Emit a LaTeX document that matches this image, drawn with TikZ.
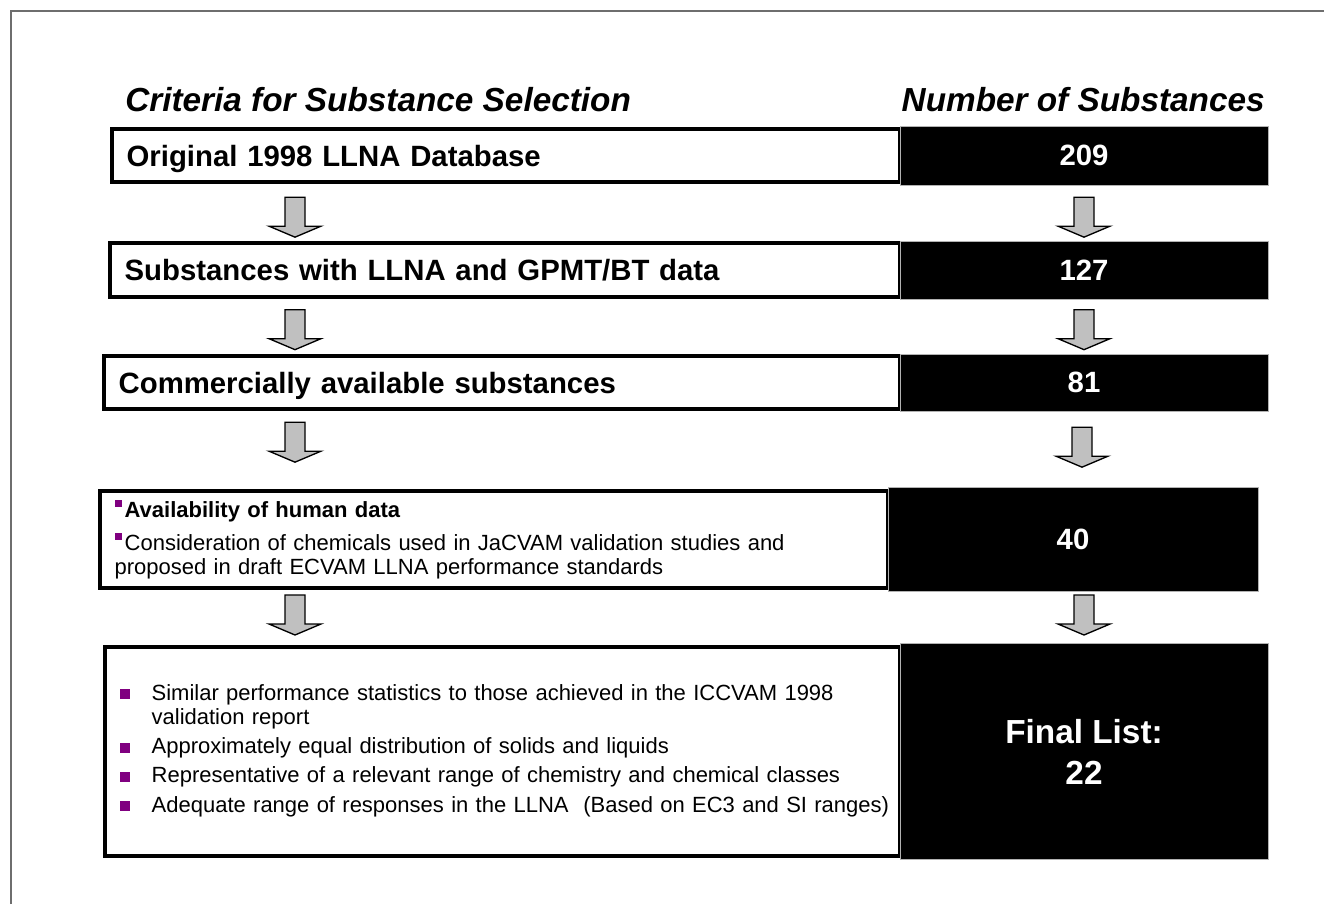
\documentclass[tikz,border=0pt]{standalone}
\usepackage{fontspec}
\setmainfont{Liberation Sans}
\usetikzlibrary{calc,positioning}

\definecolor{bulletpurple}{RGB}{128,0,128}
\definecolor{arrowgray}{RGB}{192,192,192}
\definecolor{framegray}{RGB}{110,110,110}

\newcommand{\sqbullet}{\textcolor{bulletpurple}{\rule[0.75pt]{7.5pt}{7.5pt}}}
\newcommand{\smbullet}{\textcolor{bulletpurple}{\rule[8pt]{5.5pt}{5.5pt}}}

\begin{document}
\begin{tikzpicture}[x=0.75pt,y=-0.75pt]

    \tikzstyle{crit} = [draw, line width=3pt, fill=white, anchor=west, outer sep=0pt,
        align=left, inner xsep=11pt, inner ysep=0pt, minimum height=40pt,
        font=\fontsize{22}{26}\selectfont\bfseries]

    \tikzstyle{count} = [draw=gray!60, line width=0.75pt, fill=black, text=white,
        outer sep=0pt, align=center, inner sep=0pt, minimum width=276pt,
        font=\fontsize{22}{26}\selectfont\bfseries]

    \tikzstyle{oneline} = [text depth=0pt]

    \tikzstyle{head} = [inner sep=0pt, font=\fontsize{25}{29}\selectfont\bfseries\itshape]

    \tikzstyle{small} = [font=\fontsize{16.5}{18}\selectfont]

    \tikzset{dnarrow/.pic={
        \draw[fill=arrowgray, line width=1pt] (-10,0) -- (-10,29) -- (-26,29)
            -- (0,40) -- (26,29) -- (10,29) -- (10,0) -- cycle;}}

    \useasboundingbox (0,0) rectangle (1324,904);

    % Frame
    \draw[framegray, line width=1.2pt] (11,904) -- (11,11) -- (1324,11);

    % Headings
    \node [head, anchor=base west] (crithead) at (125,111) {Criteria for Substance Selection};
    \node [head, anchor=base east] (numhead) at (1265,111) {Number of Substances};

    % Row 1
    \node [crit, oneline, text width=569pt] (orig) at (112,155.5) {Original 1998 LLNA Database};
    \node [count, oneline, right=0pt of orig, minimum height=44.25pt] (n209) {209};

    % Row 2
    \node [crit, oneline, text width=570.5pt] (gpmt) at (110,270) {Substances with LLNA and GPMT/BT data};
    \node [count, oneline, right=0pt of gpmt, minimum height=43.5pt] (n127) {127};

    % Row 3
    \node [crit, oneline, text width=575pt] (comm) at (104,382.5) {Commercially available substances};
    \node [count, oneline, right=0pt of comm, minimum height=42.75pt] (n81) {81};

    % Row 4
    \node [crit, small, text width=569pt, minimum height=72.75pt] (human) at (100,539.5)
        {\smbullet\hspace{2pt}\textbf{Availability of human data}\\[6.75pt]
         \smbullet\hspace{2pt}Consideration of chemicals used in JaCVAM validation studies and\\
         proposed in draft ECVAM LLNA performance standards};
    \node [count, oneline, right=0pt of human, minimum width=277.5pt, minimum height=78pt] (n40) {40};

    % Row 5
    \node [crit, small, text width=574.25pt, minimum height=156.75pt] (final) at (105,751.5)
        {\begin{tabular}{@{}p{24pt}@{}l@{}}
         \sqbullet & Similar performance statistics to those achieved in the ICCVAM 1998\\
                   & validation report\\[4pt]
         \sqbullet & Approximately equal distribution of solids and liquids\\[4pt]
         \sqbullet & Representative of a relevant range of chemistry and chemical classes\\[4pt]
         \sqbullet & Adequate range of responses in the LLNA\ \ (Based on EC3 and SI ranges)
         \end{tabular}};
    \node [count, right=0pt of final, minimum height=162pt,
        font=\fontsize{25}{30.75}\selectfont\bfseries] (n22) {Final List:\\22};

    % Arrows
    \coordinate (lcol) at (295,0);
    \coordinate (rcol) at (1084,0);

    \pic at ($(lcol |- orig.south)+(0,15)$) {dnarrow};
    \pic at ($(rcol |- orig.south)+(0,15)$) {dnarrow};
    \pic at ($(lcol |- gpmt.south)+(0,13)$) {dnarrow};
    \pic at ($(rcol |- gpmt.south)+(0,13)$) {dnarrow};
    \pic at ($(lcol |- comm.south)+(0,13)$) {dnarrow};
    \pic at ($(rcol |- comm.south)+(-2,18)$) {dnarrow};
    \pic at ($(lcol |- human.south)+(0,7)$) {dnarrow};
    \pic at ($(rcol |- human.south)+(0,7)$) {dnarrow};

\end{tikzpicture}
\end{document}
